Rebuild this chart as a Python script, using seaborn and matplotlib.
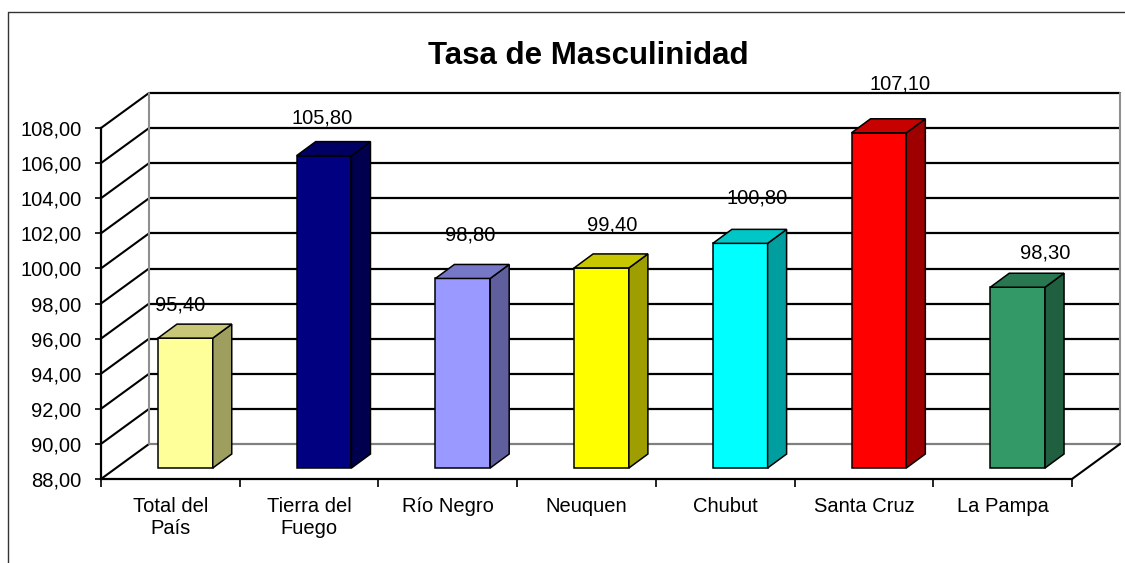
import numpy as np
import pandas as pd
import matplotlib
matplotlib.use("Agg")
import matplotlib.pyplot as plt
import matplotlib.colors as mcolors
from matplotlib.patches import Polygon
from matplotlib.lines import Line2D
import seaborn as sns

# ---------------- data ----------------
categories = ["Total del\nPaís", "Tierra del\nFuego", "Río Negro", "Neuquen",
              "Chubut", "Santa Cruz", "La Pampa"]
values = [95.40, 105.80, 98.80, 99.40, 100.80, 107.10, 98.30]
bar_colors = ["#FFFF99", "#000080", "#9999FF", "#FFFF00", "#00FFFF", "#FF0000", "#339966"]
y_ticks = [88, 90, 92, 94, 96, 98, 100, 102, 104, 106, 108]
title = "Tasa de Masculinidad"

# ---------------- layout (pixels) ----------------
label_dx_px = [-5, -2, 7, 11, 17, 21, 28]
label_dy_px = [19, 24, 29.5, 29, 31, 35, 20]

sns.set_theme(style="white")
plt.rcParams['font.family'] = ['Liberation Sans', 'DejaVu Sans']

W, H = 1125, 563
fig = plt.figure(figsize=(W / 100, H / 100), dpi=100)
ax = fig.add_axes([101 / W, 1 - 479 / H, 971 / W, 351 / H])
ax.patch.set_alpha(0)

y_min, y_max = y_ticks[0], y_ticks[-1]
n = len(categories)
PX_X = 971 / n
PX_Y = 351 / (y_max - y_min)


def px(dx, dy):
    return dx / PX_X, dy / PX_Y


BACK = px(48, 35)
FRONT = px(15, 11)
DEPTH = px(19, 14)

df = pd.DataFrame({"cat": categories, "val": values})
sns.barplot(data=df, x="cat", y="val", hue="cat", palette=bar_colors, width=0.395,
            edgecolor="black", linewidth=1.1, saturation=1, legend=False, ax=ax, zorder=5)
ax.set_xlim(-0.5, n - 0.5)
ax.set_ylim(y_min, y_max)

# back wall + side wall gridlines
for t in y_ticks:
    c = "#808080" if t == y_min else "black"
    ax.add_line(Line2D([-0.5 + BACK[0], n - 0.5 + BACK[0]], [t + BACK[1], t + BACK[1]],
                       color=c, lw=1.6, clip_on=False, zorder=1))
    ax.add_line(Line2D([-0.5, -0.5 + BACK[0]], [t, t + BACK[1]],
                       color="black", lw=1.5, clip_on=False, zorder=1))
# wall edges
for xe in (-0.5 + BACK[0], n - 0.5 + BACK[0]):
    ax.add_line(Line2D([xe, xe], [y_min + BACK[1], y_max + BACK[1]],
                       color="#909090", lw=1.5, clip_on=False, zorder=1))
# floor right edge
ax.add_line(Line2D([n - 0.5, n - 0.5 + BACK[0]], [y_min, y_min + BACK[1]],
                   color="black", lw=1.5, clip_on=False, zorder=1))

# 3D bars
for p in ax.patches:
    w = p.get_width()
    v = p.get_height()
    x0 = p.get_x() + FRONT[0]
    yb = y_min + FRONT[1]
    yt = v + FRONT[1]
    p.set_x(x0)
    p.set_y(yb)
    p.set_height(v - y_min)
    p.set_clip_on(False)
    rgb = np.array(mcolors.to_rgb(p.get_facecolor()))
    side = Polygon([(x0 + w, yb), (x0 + w, yt), (x0 + w + DEPTH[0], yt + DEPTH[1]),
                    (x0 + w + DEPTH[0], yb + DEPTH[1])], closed=True,
                   facecolor=rgb * 0.62, edgecolor="black", lw=1.1, clip_on=False,
                   zorder=5, joinstyle="miter")
    top = Polygon([(x0, yt), (x0 + w, yt), (x0 + w + DEPTH[0], yt + DEPTH[1]),
                   (x0 + DEPTH[0], yt + DEPTH[1])], closed=True,
                  facecolor=rgb * 0.78, edgecolor="black", lw=1.1, clip_on=False,
                  zorder=5, joinstyle="miter")
    ax.add_patch(side)
    ax.add_patch(top)

# value labels
for i, v in enumerate(values):
    dx, dy = px(label_dx_px[i], label_dy_px[i])
    ax.text(i + FRONT[0] + dx, v + FRONT[1] + DEPTH[1] + dy,
            f"{v:.2f}".replace(".", ","), ha="center", va="center",
            fontsize=14.5, color="black", zorder=6, clip_on=False)

# axes styling
for s in ("top", "right"):
    ax.spines[s].set_visible(False)
for s in ("left", "bottom"):
    ax.spines[s].set_color("black")
    ax.spines[s].set_linewidth(1.6)

ax.set_yticks(y_ticks)
ax.set_yticklabels([f"{t:.2f}".replace(".", ",") for t in y_ticks])
ax.tick_params(axis="y", left=True, length=4, width=1.2, color="black", pad=10,
               labelsize=14.5, labelcolor="black", direction="out")

ax.set_xticks(np.arange(-0.5, n, 1.0))
ax.set_xticklabels([])
ax.set_xticks(np.arange(n), minor=True)
ax.set_xticklabels(categories, minor=True)
ax.tick_params(axis="x", which="major", bottom=True, length=6, width=1.2, color="black")
ax.tick_params(axis="x", which="minor", bottom=True, length=0, pad=13,
               labelsize=14.5, labelcolor="black")
ax.set_xlabel("")
ax.set_ylabel("")

fig.text(588 / W, 1 - 56 / H, title, ha="center", va="center",
         fontsize=22.5, fontweight="bold", color="black")

fig.add_artist(Line2D([8 / W, 8 / W, 1.0], [0.0, 1 - 12 / H, 1 - 12 / H],
                      color="#333333", lw=1.0, transform=fig.transFigure))

fig.savefig("out.png", dpi=100)
